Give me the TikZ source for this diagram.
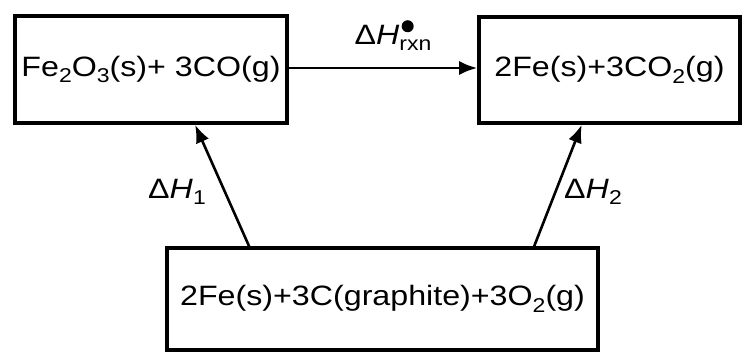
\documentclass[tikz,border=0pt]{standalone}
\usepackage{fontspec}
\setmainfont{Liberation Sans}[FakeStretch=1.15]
\usepackage{tikz}
\usetikzlibrary{arrows.meta,positioning,calc}

\newcommand{\dn}[1]{\raisebox{-0.45ex}{\fontsize{10}{10}\selectfont #1}}

\begin{document}
\begin{tikzpicture}[
x=0.5pt, y=-0.5pt,
box/.style={draw, line width=1.8pt, align=center, inner sep=0pt, font=\fontsize{14}{16}\selectfont},
arrow/.style={-{Latex[length=9pt,width=7pt]}, line width=1.3pt},
lbl/.style={font=\fontsize{14}{16}\selectfont}
]
\useasboundingbox (0,0) rectangle (744,354);
\node[box, minimum width=136pt, minimum height=53.5pt] (reactants) at (151,69.5) {Fe\dn{2}O\dn{3}(s)+ 3CO(g)};
\node[box, minimum width=130.5pt, minimum height=53pt] (products) at (609.5,70) {2Fe(s)+3CO\dn{2}(g)};
\node[box, minimum width=215.5pt, minimum height=51pt] (elements) at (382.5,299) {2Fe(s)+3C(graphite)+3O\dn{2}(g)};

\draw[arrow] (reactants.east |- 0,68) -- (products.west |- 0,68)
  node[lbl, midway, above=7pt, xshift=5pt, inner sep=1pt] (hrxn) {Δ\textit{H}\raisebox{-0.4ex}{\fontsize{10}{10}\selectfont rxn}};
% standard-state dot
\fill ($(hrxn.north east)+(-27,4)$) circle (3pt);
\draw[arrow] ($(elements.north west)!0.193!(elements.north east)$) -- ($(reactants.south west)!0.66!(reactants.south east)$);
\draw[arrow] ($(elements.north west)!0.849!(elements.north east)$) -- ($(products.south west)!0.395!(products.south east)$);
\node[lbl] (h1) at (177,192) {Δ\textit{H}\dn{1}};
\node[lbl] (h2) at (593,192) {Δ\textit{H}\dn{2}};
\end{tikzpicture}
\end{document}
